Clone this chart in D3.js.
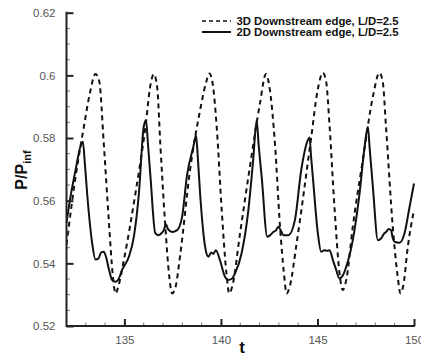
<!DOCTYPE html>
<html><head><meta charset="utf-8">
<script src="https://cdn.jsdelivr.net/npm/d3@7"></script>
<style>body{margin:0;background:#fff;}svg{display:block;font-family:"Liberation Sans",Arial,sans-serif;}</style>
</head><body>
<svg id="c" width="421" height="358"></svg>
<script>
const xTicks = [135, 140, 145, 150];
const yTicks = [0.52, 0.54, 0.56, 0.58, 0.6, 0.62];
const yTickLabels = ["0.52", "0.54", "0.56", "0.58", "0.6", "0.62"];
const seriesNames = ["3D Downstream edge, L/D=2.5", "2D Downstream edge, L/D=2.5"];

const t3D = [132.0,132.47,132.9,133.2,133.5,133.7,133.93,134.19,134.4,134.54,134.7,134.97,135.57,136.09,136.35,136.52,136.7,136.86,137.12,137.32,137.47,137.65,137.9,138.4,138.92,139.2,139.4,139.58,139.78,140.04,140.28,140.43,140.6,140.99,141.5,142.02,142.33,142.52,142.8,143.06,143.26,143.4,143.58,143.92,144.68,145.0,145.28,145.45,145.63,145.89,146.14,146.31,146.5,146.83,147.35,147.87,148.21,148.38,148.55,148.9,149.15,149.3,149.45,149.68,150.0];
const v3D = [0.546,0.5676,0.5836,0.594,0.6004,0.598,0.5783,0.5538,0.536,0.5304,0.533,0.541,0.5623,0.5836,0.597,0.6004,0.596,0.578,0.5517,0.536,0.5304,0.5325,0.5432,0.5698,0.5889,0.597,0.6006,0.597,0.5836,0.557,0.537,0.5304,0.533,0.5496,0.5708,0.591,0.6004,0.596,0.578,0.5517,0.537,0.5304,0.533,0.5464,0.5804,0.595,0.6008,0.598,0.5836,0.557,0.537,0.5315,0.535,0.5517,0.573,0.5932,0.6008,0.598,0.5836,0.5517,0.536,0.5304,0.533,0.5453,0.557];

const t2D = [132.0,132.2,132.47,132.72,132.85,132.95,133.07,133.33,133.5,133.65,133.8,133.93,134.05,134.2,134.36,134.54,134.7,134.88,135.23,135.49,135.75,136.0,136.12,136.22,136.35,136.6,136.78,136.9,137.04,137.15,137.25,137.47,137.73,137.99,138.24,138.57,138.71,138.8,138.92,139.18,139.35,139.5,139.6,139.74,139.95,140.21,140.38,140.55,140.73,141.07,141.42,141.67,141.85,141.95,142.11,142.4,142.55,142.71,142.85,142.97,143.1,143.23,143.49,143.83,144.16,144.5,144.59,144.67,144.76,145.02,145.19,145.35,145.5,145.63,145.8,145.97,146.14,146.3,146.49,146.83,147.18,147.44,147.61,147.7,147.87,148.13,148.3,148.45,148.55,148.7,148.81,148.9,148.99,149.25,149.51,149.77,150.0];
const v2D = [0.553,0.561,0.5698,0.5772,0.5788,0.572,0.5623,0.5464,0.5412,0.5415,0.5435,0.5437,0.542,0.538,0.5347,0.5341,0.535,0.5379,0.5421,0.5485,0.5623,0.5836,0.5857,0.578,0.5676,0.5496,0.549,0.5495,0.5506,0.5525,0.551,0.55,0.5506,0.5549,0.568,0.5772,0.5809,0.574,0.5623,0.5453,0.5421,0.5435,0.543,0.5442,0.541,0.5357,0.5347,0.535,0.5368,0.5432,0.557,0.573,0.5857,0.578,0.5676,0.5485,0.549,0.55,0.5505,0.5517,0.5505,0.549,0.549,0.5538,0.5698,0.5793,0.5802,0.574,0.5676,0.5496,0.5437,0.5442,0.544,0.5442,0.541,0.5379,0.5352,0.536,0.5389,0.5474,0.5623,0.5772,0.5836,0.577,0.5644,0.5474,0.548,0.5495,0.55,0.551,0.5506,0.548,0.5469,0.5466,0.5496,0.558,0.5655];

const svg = d3.select("#c");
const L = 66.5, R = 414, T = 12.7, B = 326;
const x = d3.scaleLinear().domain([132, 150]).range([L, R]);
const y = d3.scaleLinear().domain([0.52, 0.62]).range([B, T]);
const axisCol = "#222", lblCol = "#555";

// curves
const line = d3.line().x(d => x(d[0])).y(d => y(d[1])).curve(d3.curveMonotoneX);
const d3D = t3D.map((t, i) => [t, v3D[i]]);
const d2D = t2D.map((t, i) => [t, v2D[i]]);
svg.append("clipPath").attr("id", "pc").append("rect")
  .attr("x", L).attr("y", 0).attr("width", R - L + 1).attr("height", B);
const g = svg.append("g").attr("clip-path", "url(#pc)");
g.append("path").attr("d", line(d3D)).attr("fill", "none").attr("stroke", "#111")
  .attr("stroke-width", 2).attr("stroke-dasharray", "5,4");
g.append("path").attr("d", line(d2D)).attr("fill", "none").attr("stroke", "#111")
  .attr("stroke-width", 2);

// axes
const xAxis = d3.axisBottom(x).tickValues(xTicks).tickSize(-7).tickPadding(10).tickFormat(d3.format("d"));
const gx = svg.append("g").attr("transform", `translate(0,${B})`).call(xAxis);
gx.select(".domain").remove();
gx.selectAll(".tick line").attr("stroke", axisCol).attr("stroke-width", 2);
gx.selectAll(".tick text").attr("fill", lblCol).attr("font-size", 11.5).attr("dy", "0.71em");
const xMinor = d3.range(133, 150, 1).filter(v => !xTicks.includes(v));
svg.append("g").selectAll("line").data(xMinor).join("line")
  .attr("x1", d => x(d)).attr("x2", d => x(d)).attr("y1", B).attr("y2", B - 3.5)
  .attr("stroke", "#777").attr("stroke-width", 1);

const yAxis = d3.axisLeft(y).tickValues(yTicks).tickSize(-7).tickPadding(11)
  .tickFormat((d, i) => yTickLabels[i]);
const gy = svg.append("g").attr("transform", `translate(${L},0)`).call(yAxis);
gy.select(".domain").remove();
gy.selectAll(".tick line").attr("stroke", axisCol).attr("stroke-width", 2);
gy.selectAll(".tick text").attr("fill", lblCol).attr("font-size", 11.5);
const yMinor = d3.range(0, 20).map(i => 0.52 + i * 0.005).filter((v, i) => i % 4 !== 0);
svg.append("g").selectAll("line").data(yMinor).join("line")
  .attr("x1", L).attr("x2", L + 3.5).attr("y1", d => y(d)).attr("y2", d => y(d))
  .attr("stroke", "#777").attr("stroke-width", 1);

svg.append("line").attr("x1", L).attr("x2", R + 1).attr("y1", B).attr("y2", B)
  .attr("stroke", axisCol).attr("stroke-width", 2);
svg.append("line").attr("x1", L).attr("x2", L).attr("y1", T - 1).attr("y2", B + 1)
  .attr("stroke", axisCol).attr("stroke-width", 2);

// axis titles
svg.append("text").attr("x", 242).attr("y", 353).attr("text-anchor", "middle")
  .attr("font-size", 17).attr("font-weight", "bold").attr("fill", "#111").text("t");
const yl = svg.append("text").attr("transform", "translate(27,170) rotate(-90)")
  .attr("text-anchor", "middle").attr("font-size", 16).attr("font-weight", "bold").attr("fill", "#111");
yl.append("tspan").text("P/P");
yl.append("tspan").attr("font-size", 11).attr("dy", 4).text("inf");

// legend
const legY = [21, 32];
const dashes = [ "4,3", null ];
seriesNames.forEach((s, i) => {
  const ln = svg.append("line").attr("x1", 202).attr("x2", 231).attr("y1", legY[i]).attr("y2", legY[i])
    .attr("stroke", "#111").attr("stroke-width", i === 0 ? 1.5 : 2);
  if (dashes[i]) ln.attr("stroke-dasharray", dashes[i]);
  svg.append("text").attr("x", 236.5).attr("y", legY[i] + 4).attr("font-size", 11)
    .attr("font-weight", "bold").attr("fill", "#111")
    .attr("textLength", 162).attr("lengthAdjust", "spacingAndGlyphs").text(s);
});
</script>
</body></html>
